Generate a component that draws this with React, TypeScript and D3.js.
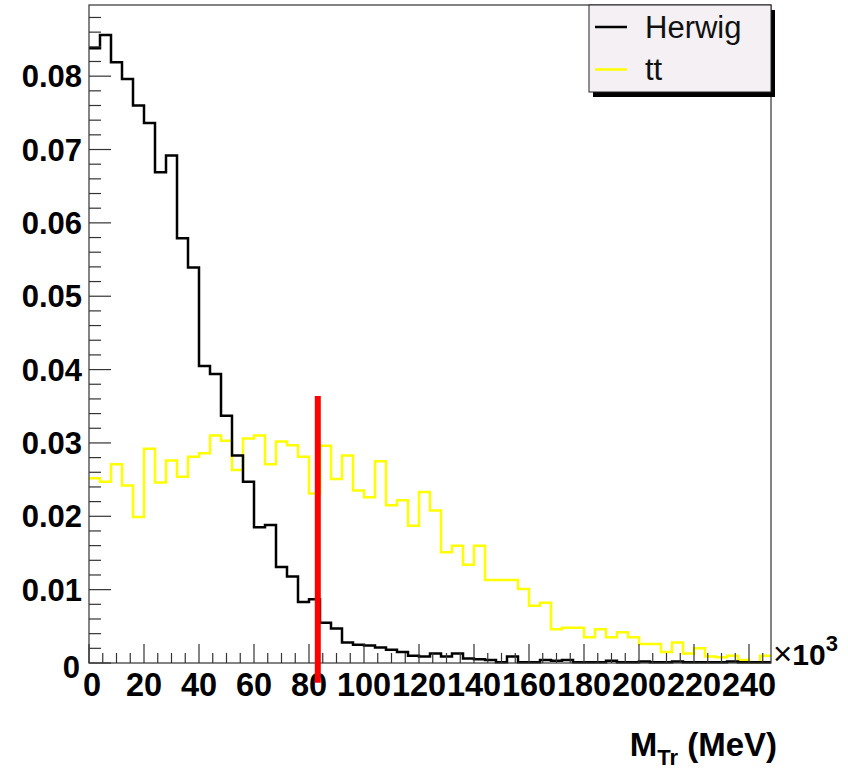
import React, { useEffect, useRef } from "react";
import * as d3 from "d3";

// bin width 4 (x10^3), 62 bins from 0 to 248
const binWidth = 4;
const herwig = [
  0.0838, 0.0856, 0.0819, 0.0796, 0.0760, 0.0736, 0.0669, 0.0692, 0.0579, 0.0539,
  0.0405, 0.0394, 0.0337, 0.0283, 0.0247, 0.0185, 0.0188, 0.0131, 0.0118, 0.0083,
  0.0087, 0.0055, 0.0047, 0.0028, 0.0025, 0.0024, 0.0021, 0.0018, 0.0015, 0.0010,
  0.0009, 0.0013, 0.0009, 0.0013, 0.0006, 0.0005, 0.0004, 0.0001, 0.0009, 0.0001,
  0.0001, 0.0004, 0.0003, 0.0004, 0.0001, 0.0001, 0.0001, 0.0003, 0.0001, 0.0001,
  0.0002, 0.0001, 0.0001, 0.0002, 0.0001, 0.0001, 0.0001, 0.0001, 0.0002, 0.0001,
  0.0001, 0.0001,
];
const ttbar = [
  0.0252, 0.0247, 0.0271, 0.0242, 0.0199, 0.0292, 0.0246, 0.0276, 0.0254, 0.0281,
  0.0286, 0.0310, 0.0303, 0.0263, 0.0306, 0.0310, 0.0271, 0.0302, 0.0297, 0.0281,
  0.0231, 0.0296, 0.0251, 0.0283, 0.0235, 0.0226, 0.0275, 0.0215, 0.0222, 0.0187,
  0.0233, 0.0208, 0.0151, 0.0160, 0.0134, 0.0160, 0.0113, 0.0113, 0.0113, 0.0101,
  0.0078, 0.0082, 0.0046, 0.0048, 0.0048, 0.0035, 0.0046, 0.0035, 0.0042, 0.0035,
  0.0026, 0.0026, 0.0015, 0.0028, 0.0013, 0.0020, 0.0009, 0.0008, 0.0010, 0.0004,
  0.0001, 0.0010,
];
const xTicks = [0, 20, 40, 60, 80, 100, 120, 140, 160, 180, 200, 220, 240];
const yTicks = [0, 0.01, 0.02, 0.03, 0.04, 0.05, 0.06, 0.07, 0.08];
const cutX = 83.2;
const cutY = [-0.0027, 0.0364];
const legendItems = [
  { name: "Herwig", color: "#000000" },
  { name: "tt", color: "#ffff00" },
];

const W = 848, H = 769;
const left = 89, right = 771, top = 5, bottom = 663;

export default function App() {
  const ref = useRef<SVGSVGElement>(null);

  useEffect(() => {
    const svg = d3.select(ref.current);
    svg.selectAll("*").remove();
    const font = "'Liberation Sans', Arial, Helvetica, sans-serif";

    const x = d3.scaleLinear().domain([0, herwig.length * binWidth]).range([left, right]);
    const y = d3.scaleLinear().domain([0, 0.0897]).range([bottom, top]);

    svg.append("rect").attr("width", W).attr("height", H).attr("fill", "#ffffff");

    // histograms as steps
    const stepLine = d3.line<[number, number]>()
      .x(d => x(d[0]))
      .y(d => y(d[1]))
      .curve(d3.curveStepAfter);
    const pts = (vals: number[]) => {
      const p: [number, number][] = vals.map((v, i) => [i * binWidth, v]);
      p.push([vals.length * binWidth, vals[vals.length - 1]]);
      return p;
    };

    svg.append("path")
      .attr("d", stepLine(pts(ttbar)))
      .attr("fill", "none")
      .attr("stroke", "#ffff00")
      .attr("stroke-width", 2.5);

    svg.append("path")
      .attr("d", stepLine(pts(herwig)))
      .attr("fill", "none")
      .attr("stroke", "#000000")
      .attr("stroke-width", 2.5);

    // frame
    svg.append("rect")
      .attr("x", left).attr("y", top)
      .attr("width", right - left).attr("height", bottom - top)
      .attr("fill", "none")
      .attr("stroke", "#333")
      .attr("stroke-width", 1.2);

    // x ticks (inside, going up)
    const g = svg.append("g").attr("stroke", "#333").attr("stroke-width", 1.2);
    d3.range(0, 248.01, 5).forEach(t => {
      const major = t % 20 === 0;
      g.append("line")
        .attr("x1", x(t)).attr("x2", x(t))
        .attr("y1", bottom).attr("y2", bottom - (major ? 19 : 10));
    });
    // y ticks (inside, going right)
    d3.range(0, 0.0897, 0.002).forEach((t, i) => {
      const major = i % 5 === 0;
      g.append("line")
        .attr("x1", left).attr("x2", left + (major ? 22 : 12))
        .attr("y1", y(t)).attr("y2", y(t));
    });

    // tick labels
    svg.selectAll(".xl").data(xTicks).join("text")
      .attr("class", "xl")
      .attr("x", d => x(d) + (d === 0 ? 3 : 0))
      .attr("y", 696)
      .attr("text-anchor", "middle")
      .style("font-family", font)
      .style("font-weight", "bold")
      .style("font-size", "32.5px")
      .text(d => String(d));

    svg.selectAll(".yl").data(yTicks).join("text")
      .attr("class", "yl")
      .attr("x", d => (d === 0 ? 80 : 82))
      .attr("y", d => y(d) + (d === 0 ? 15 : 11))
      .attr("text-anchor", "end")
      .style("font-family", font)
      .style("font-weight", "bold")
      .style("font-size", "31px")
      .text(d => (d === 0 ? "0" : d3.format(".2f")(d)));

    // x10^3 multiplier
    const mult = svg.append("text")
      .attr("x", 773).attr("y", 665)
      .style("font-family", font)
      .style("font-size", "30px");
    mult.append("tspan").style("font-size", "33px").text("\u00d7");
    mult.append("tspan").style("font-weight", "bold").text("10");
    mult.append("tspan").attr("dy", -14).style("font-weight", "bold").style("font-size", "22px").text("3");

    // axis title
    const title = svg.append("text")
      .attr("x", 777).attr("y", 756)
      .attr("text-anchor", "end")
      .style("font-family", font)
      .style("font-weight", "bold")
      .style("font-size", "33px");
    title.append("tspan").text("M");
    title.append("tspan").attr("dy", 9).style("font-size", "22px").text("Tr");
    title.append("tspan").attr("dy", -9).text(" (MeV)");

    // cut line
    svg.append("line")
      .attr("x1", x(cutX)).attr("x2", x(cutX))
      .attr("y1", y(cutY[0])).attr("y2", y(cutY[1]))
      .attr("stroke", "#ff0000")
      .attr("stroke-width", 6);

    // legend
    const lx = 589, ly = 5, lw = 182, lh = 87;
    svg.append("rect")
      .attr("x", lx + 4).attr("y", ly + 5)
      .attr("width", lw).attr("height", lh)
      .attr("fill", "#000");
    svg.append("rect")
      .attr("x", lx).attr("y", ly)
      .attr("width", lw).attr("height", lh)
      .attr("fill", "#f4f0f3")
      .attr("stroke", "#222")
      .attr("stroke-width", 1);
    legendItems.forEach((item, i) => {
      const cy = 27 + i * 42.5;
      svg.append("line")
        .attr("x1", 595).attr("x2", 627)
        .attr("y1", cy).attr("y2", cy)
        .attr("stroke", item.color)
        .attr("stroke-width", 2.5);
      svg.append("text")
        .attr("x", 645).attr("y", cy + 10.5)
        .style("font-family", font)
        .style("font-size", "31px")
        .attr("fill", "#111")
        .text(item.name);
    });
  }, []);

  return <svg ref={ref} width={W} height={H} style={{ display: "block", position: "absolute", left: 0, top: 0 }} />;
}
